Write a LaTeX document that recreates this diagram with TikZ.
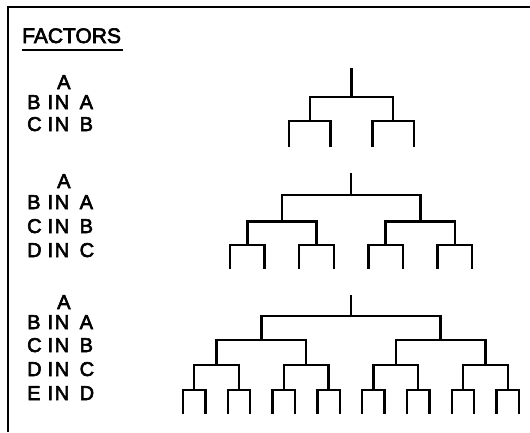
\documentclass[tikz,border=0pt]{standalone}
\usepackage{fontspec}
\setmainfont{Liberation Sans}
\newfontfamily\letterfont{Liberation Sans}[FakeBold=3]
\begin{document}
\begin{tikzpicture}[x=1pt,y=-1pt,
  frame/.style={line width=1.8pt},
  branch/.style={line width=2.5pt,line join=miter},
  head/.style={font=\letterfont\fontsize{21}{21}\selectfont,inner sep=0pt,anchor=base west},
  factor/.style={font=\letterfont\fontsize{20}{20}\selectfont,inner sep=0pt,anchor=base west}]
\useasboundingbox (0,0) rectangle (530,432);

% open frame: top and left edges only
\coordinate (fr-tl) at (8,7);
\coordinate (fr-tr) at (530,7);
\coordinate (fr-bl) at (8,432);
\draw[frame] (fr-tr) -- (fr-tl) -- (fr-bl);

% heading
\node[head] (title) at (22,43) {FACTORS};
\draw[line width=1.5pt] (title.south west |- 0,50) -- ([xshift=2pt]title.south east |- 0,50);

% factor lists: one line per node, three fixed columns
\newcommand\factline[2]{\makebox[20.5pt][l]{#1}\makebox[32pt][l]{I\hspace{1.5pt}N}#2}

\node[factor] (s1-a) at (57,89)  {A};
\node[factor] (s1-b) at (27,109) {\factline{B}{A}};
\node[factor] (s1-c) at (27,131) {\factline{C}{B}};

\node[factor] (s2-a) at (57,188) {A};
\node[factor] (s2-b) at (27,209) {\factline{B}{A}};
\node[factor] (s2-c) at (27,233) {\factline{C}{B}};
\node[factor] (s2-d) at (27,257) {\factline{D}{C}};

\node[factor] (s3-a) at (57,309) {A};
\node[factor] (s3-b) at (27,329) {\factline{B}{A}};
\node[factor] (s3-c) at (27,352) {\factline{C}{B}};
\node[factor] (s3-d) at (27,376) {\factline{D}{C}};
\node[factor] (s3-e) at (27,400) {\factline{E}{D}};

% binary nesting tree
% #1 name, #2 depth, #3 x of first leaf, #4 leaf step, #5 y values {top,bar levels...,leaf ends}
\newcommand\nesttree[5]{%
  \foreach \lv in {0,...,#2}{%
    \pgfmathtruncatemacro\lastidx{2^\lv-1}%
    \pgfmathsetmacro\grp{2^(#2-\lv)}%
    \pgfmathsetmacro\yy{{#5}[\lv+1]}%
    \foreach \ix in {0,...,\lastidx}{%
      \pgfmathsetmacro\xx{#3+#4*(\ix*\grp+(\grp-1)/2)}%
      \coordinate (#1-\lv-\ix) at (\xx,\yy);
    }%
  }%
  \pgfmathsetmacro\ytop{{#5}[0]}%
  \pgfmathsetmacro\xroot{#3+#4*(2^#2-1)/2}%
  \coordinate (#1-top) at (\xroot,\ytop);
  \draw[branch] (#1-top) -- (#1-0-0);
  \pgfmathtruncatemacro\lastlv{#2-1}%
  \foreach \lv in {0,...,\lastlv}{%
    \pgfmathtruncatemacro\lastidx{2^\lv-1}%
    \pgfmathtruncatemacro\nextlv{\lv+1}%
    \foreach \ix in {0,...,\lastidx}{%
      \pgfmathtruncatemacro\ka{2*\ix}%
      \pgfmathtruncatemacro\kb{2*\ix+1}%
      \draw[branch] (#1-\nextlv-\ka) |- (#1-\lv-\ix) -| (#1-\nextlv-\kb);
    }%
  }%
}

\nesttree{t1}{2}{289}{41.67}{68,97,121,147}
\nesttree{t2}{3}{230}{34.6}{173,195,221.5,245,269}
\nesttree{t3}{4}{183}{22.4}{295,316,340,365,390,414}
\end{tikzpicture}
\end{document}
